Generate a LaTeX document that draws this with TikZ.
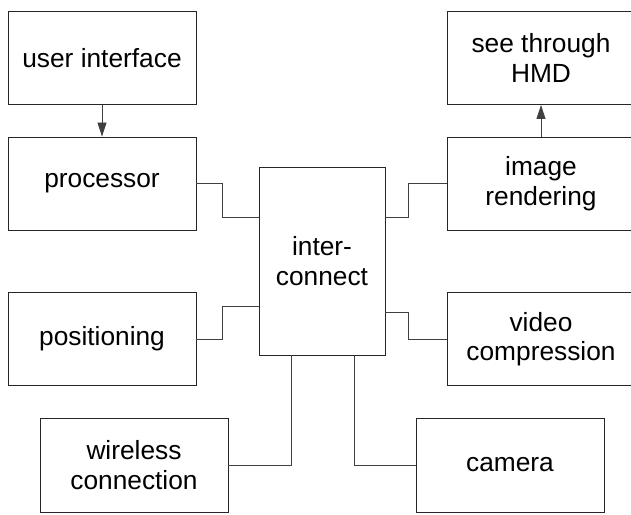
\documentclass[tikz,border=0pt]{standalone}
\usepackage{fontspec}
\setmainfont{Liberation Sans}
\usetikzlibrary{arrows.meta}
\begin{document}
\begin{tikzpicture}[x=1pt,y=-1pt,
        box/.style={draw=black!85,line width=0.9pt,align=center,inner sep=0pt,
          minimum width=188pt,minimum height=93pt,
          font=\fontsize{26.3}{29.5}\selectfont},
        wire/.style={line width=0.8pt,draw=black!75},
        arr/.style={wire,-{Triangle[length=14pt,width=9pt]}}]
        \useasboundingbox (0,0) rectangle (631,514);
        \node[box] (UI) at (102,58) {user interface};
        \node[box] (PR) at (102,183.5) {processor};
        \node[box] (PO) at (102,339) {positioning};
        \node[box,minimum height=94pt] (WC) at (134,465) {wireless\\connection};
        \node[box,minimum width=126pt,minimum height=188pt] (IC) at (322,261) {inter-\\connect};
        \node[box] (HMD) at (541,58) {see through\\HMD};
        \node[box] (IR) at (541,183.5) {image\\rendering};
        \node[box] (VC) at (541,339) {video\\compression};
        \node[box,minimum height=94pt] (CA) at (510,465) {camera};

        \draw[arr] (UI) -- (PR);
        \draw[arr] (IR) -- (HMD);

        \draw[wire] (PR.east) -- ++(26,0) |- ([yshift=44pt]IC.west);
        \draw[wire] (PO.east) -- ++(26,0) |- ([yshift=-45pt]IC.west);
        \draw[wire] (IR.west) -- ++(-38,0) |- ([yshift=44pt]IC.east);
        \draw[wire] (VC.west) -- ++(-38,0) |- ([yshift=-51pt]IC.east);
        \draw[wire] (WC.east) -| ([xshift=-31pt]IC.south);
        \draw[wire] (CA.west) -| ([xshift=32pt]IC.south);
      \end{tikzpicture}
\end{document}
